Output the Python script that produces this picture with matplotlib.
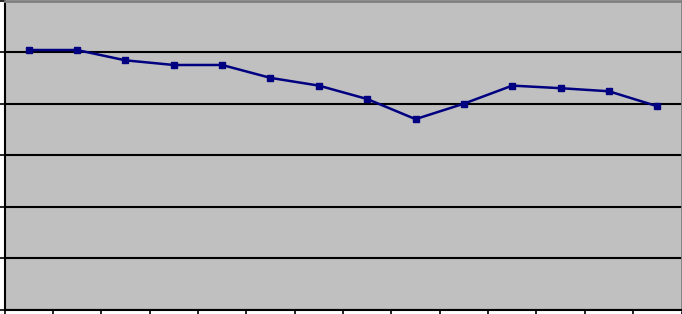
import matplotlib
matplotlib.use("Agg")
import matplotlib.pyplot as plt
import numpy as np

categories = list(range(1, 15))
values = [5.04, 5.04, 4.84, 4.75, 4.75, 4.50, 4.35, 4.09, 3.70, 4.00, 4.35, 4.30, 4.24, 3.95]
y_ticks = [0, 1, 2, 3, 4, 5, 6]

fig = plt.figure(figsize=(6.82, 3.14), dpi=100)
W, H = 682, 314
ax = fig.add_axes([4.5 / W, 4 / H, 677 / W, 309.5 / H])
ax.set_facecolor("#C0C0C0")

x = np.arange(len(categories)) + 0.5
ax.plot(x, values, color="#000080", linewidth=1.8, marker="s", markersize=4.5,
        markerfacecolor="#000080", markeredgecolor="#000080", zorder=3)

ax.set_xlim(0, len(categories))
ax.set_ylim(y_ticks[0], y_ticks[-1])
ax.set_yticks(y_ticks)
ax.set_xticks(np.arange(len(categories) + 1))
ax.set_xticklabels([])
ax.set_yticklabels([])
ax.yaxis.grid(True, color="black", linewidth=1.5)
ax.set_axisbelow(True)
ax.tick_params(axis="both", direction="out", length=4, width=1.2, color="black")

for s in ["left", "bottom"]:
    ax.spines[s].set_color("black")
    ax.spines[s].set_linewidth(1.5)
for s in ["top", "right"]:
    ax.spines[s].set_color("#808080")
    ax.spines[s].set_linewidth(2)

fig.savefig("out.png", dpi=100, facecolor="white")
